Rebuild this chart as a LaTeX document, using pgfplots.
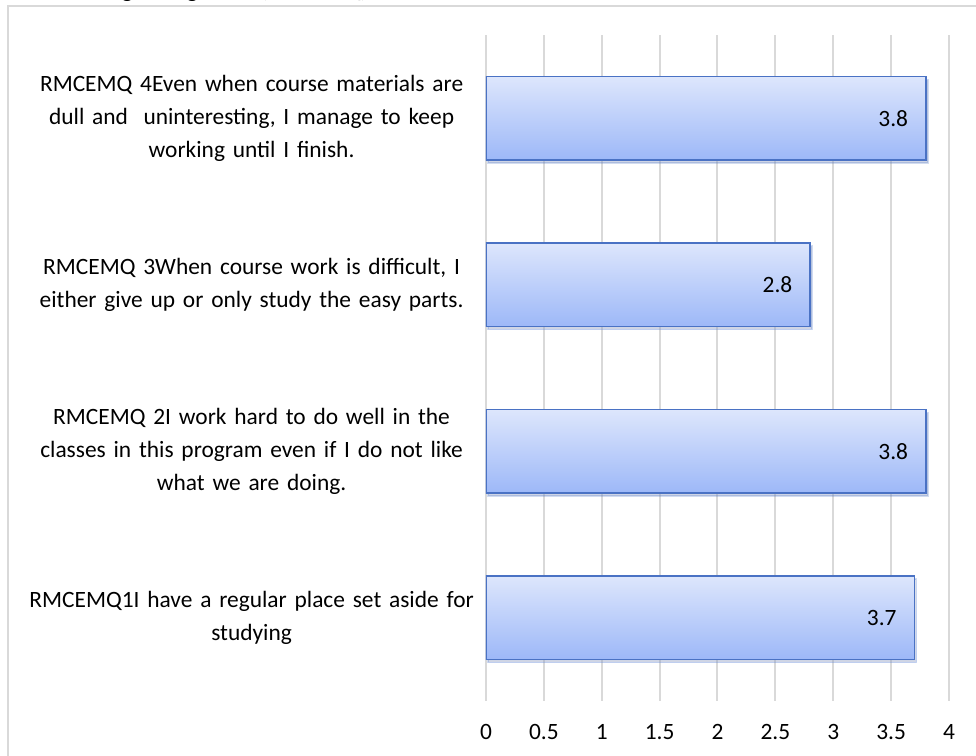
\documentclass[border=0pt]{standalone}
\usepackage{pgfplots}
\pgfplotsset{compat=1.18}
\usepackage{fontspec}
\setmainfont{Carlito}
\usetikzlibrary{shadows}
\definecolor{gridc}{HTML}{D9D9D9}
\definecolor{bartop}{HTML}{DDE6FC}
\definecolor{barbot}{HTML}{9DB8F8}
\definecolor{bardraw}{HTML}{4A72C4}
\pgfplotsset{mybar/.style={xbar, bar shift=0pt, top color=bartop, bottom color=barbot, draw=bardraw, line width=0.75pt,
    drop shadow={opacity=0.25, shadow xshift=1pt, shadow yshift=-1.5pt}}}
\begin{document}
\begin{tikzpicture}
\useasboundingbox (0pt,0pt) rectangle (488pt,378pt);
\clip (0pt,0pt) rectangle (488pt,378pt);
\draw[gridc, line width=1pt] (4pt,-20pt) -- (4pt,375pt) -- (520pt,375pt);
\node[anchor=base east, font=\fontsize{11.7}{14}\selectfont, inner sep=0pt] at (184pt,379pt) {Regulating Effort (RMCEMQ)};
\begin{axis}[
  at={(243pt,27.5pt)}, anchor=south west,
  scale only axis, width=231.5pt, height=333pt,
  xmin=0, xmax=4, ymin=0.5, ymax=4.5,
  xbar, bar width=0.5,
  axis line style={draw=none},
  tick style={draw=none}, major tick length=0pt,
  xtick={0,0.5,...,4},
  ytick={1,2,3,4},
  yticklabels={
    {RMCEMQ1I have a regular place set aside for\\studying},
    {RMCEMQ 2I work hard to do well in the\\classes in this program even if I do not like\\what we are doing.},
    {RMCEMQ 3When course work is difficult, I\\either give up or only study the easy parts.},
    {RMCEMQ 4Even when course materials are\\dull and\ \ uninteresting, I manage to keep\\working until I finish.}
  },
  xmajorgrids, grid style={gridc, line width=1pt},
  /pgf/number format/assume math mode=true,
  tick label style={font=\fontsize{11.7}{16.5}\selectfont},
  xticklabel style={anchor=north, inner sep=0pt, yshift=-11.5pt},
  yticklabel style={anchor=east, text width=234pt, align=center, inner sep=0pt, xshift=0pt},
  nodes near coords,
  point meta=x,
  nodes near coords style={anchor=east, xshift=-8.5pt, inner sep=0pt, font=\fontsize{11.7}{14}\selectfont, text=black},
]
\addplot[mybar] coordinates {(3.7,1)};
\addplot[mybar] coordinates {(3.8,2)};
\addplot[mybar] coordinates {(2.8,3)};
\addplot[mybar] coordinates {(3.8,4)};
\end{axis}
\end{tikzpicture}
\end{document}
